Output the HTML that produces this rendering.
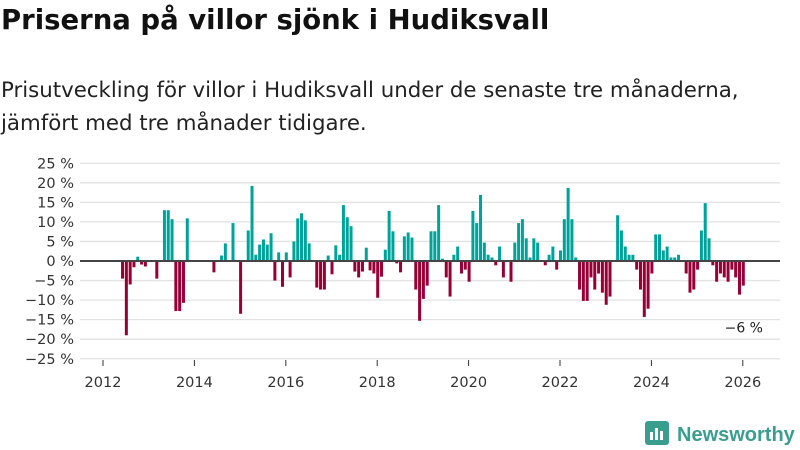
<!DOCTYPE html>
<html><head><meta charset="utf-8"><style>
body{margin:0;width:800px;height:450px;background:#fff;font-family:"DejaVu Sans","Liberation Sans",sans-serif;overflow:hidden;position:relative}
h1{position:absolute;left:1px;top:4px;margin:0;font-size:27.5px;font-weight:bold;color:#111;white-space:nowrap}
.sub{position:absolute;left:1px;top:74px;margin:0;font-size:21.3px;line-height:33px;color:#222;white-space:nowrap}
svg{position:absolute;left:0;top:0}
</style></head><body>
<h1>Priserna på villor sjönk i Hudiksvall</h1>
<p class="sub">Prisutveckling för villor i Hudiksvall under de senaste tre månaderna,<br>jämfört med tre månader tidigare.</p>
<svg id="chart" width="800" height="450" font-family="DejaVu Sans, Liberation Sans, sans-serif"></svg>
<script>
const startYear = 2012, startMonth = 5; // first bar: June 2012
const values = [-4.5,-19,-6,-1.6,1.1,-0.9,-1.4,0,0,-4.5,0,13,13,10.7,-12.8,-12.8,-10.7,10.9,0,0,0,0,0,0,-2.9,0,1.4,4.5,0,9.7,0,-13.5,0,7.8,19.2,1.6,4.2,5.5,4.2,7.1,-5,2.2,-6.6,2.2,-4.2,5,10.9,12.2,10.4,4.5,0,-6.8,-7.3,-7.3,1.4,-3.4,4,1.6,14.3,11.2,8.9,-2.7,-4.2,-2.7,3.4,-2.4,-3.2,-9.4,-4,2.9,12.8,7.6,-0.6,-2.9,6.3,7.3,6,-7.3,-15.3,-9.7,-6.3,7.6,7.6,14.3,0.6,-4.2,-9.1,1.6,3.7,-3.2,-2.2,-5.3,12.8,9.7,16.9,4.7,1.6,0.9,-1.1,3.7,-4.2,0,-5.3,4.7,9.7,10.7,5.8,0.9,5.8,4.7,0,-1.1,1.6,3.7,-2.2,2.7,10.7,18.7,10.7,0.9,-7.3,-10.2,-10.2,-4.2,-7.3,-3.2,-8.1,-11.2,-9.1,0,11.7,7.8,3.7,1.6,1.6,-2.2,-7.3,-14.3,-12.2,-3.2,6.8,6.8,2.7,3.7,0.9,0.9,1.6,0,-3.2,-8.1,-7.3,-2.2,7.8,14.8,5.8,-1.1,-5.3,-3.2,-4.2,-5.3,-2.2,-4.2,-8.6,-6.3];
const yTicks = [25,20,15,10,5,0,-5,-10,-15,-20,-25];
const xTicks = [2012,2014,2016,2018,2020,2022,2024,2026];
const lastLabel = "−6 %";

const NS="http://www.w3.org/2000/svg";
const svg=document.getElementById('chart');
const y0=261, pxPer=3.91;
function yS(v){return y0 - v*pxPer;}
function xS(yearFrac){return 103 + (yearFrac-2012)*45.7;}
function mk(tag,attrs){const e=document.createElementNS(NS,tag);for(const k in attrs)e.setAttribute(k,attrs[k]);svg.appendChild(e);return e;}

yTicks.forEach(t=>{
  const g=mk('line',{x1:80,x2:780,y1:yS(t),y2:yS(t),stroke:'#e2e2e2','stroke-width':1.3});
  
  
  const l=mk('text',{x:74,y:yS(t)+5,'text-anchor':'end','font-size':14.5,fill:'#333'});
  l.textContent=(t<0?'−'+(-t):t)+' %';
  
  
});
xTicks.forEach(t=>{
  const x=xS(t);
  const tk=mk('line',{x1:x,x2:x,y1:360,y2:366,stroke:'#333','stroke-width':1});
  
  
  const l=mk('text',{x:x,y:387,'text-anchor':'middle','font-size':14.5,fill:'#333'});
  l.textContent=t;
  
  
});
values.forEach((v,i)=>{
  const m=startMonth+i;
  const x=xS(startYear+m/12)-1;
  const top=Math.min(yS(v),y0), h=Math.abs(yS(v)-y0);
  const r=mk('rect',{x:x,y:top,width:3,height:h,fill:v>=0?'#00a39a':'#980035'});
  
  
});
const zl=mk('line',{x1:80,x2:780,y1:y0,y2:y0,stroke:'#444','stroke-width':2});


const lastX=xS(startYear+(startMonth+values.length-1)/12);
const lab=mk('text',{x:lastX+1,y:yS(values[values.length-1])+47,'text-anchor':'middle','font-size':14,fill:'#222'});
lab.textContent=lastLabel;


</script>
<svg width="800" height="450" style="pointer-events:none">
<rect x="645" y="421" width="24" height="24" rx="3" fill="#3a9e8f"/>
<rect x="650" y="432" width="3" height="8" fill="#fff"/><rect x="655" y="428" width="3" height="12" fill="#fff"/><rect x="660" y="431" width="3" height="9" fill="#fff"/>
<text x="677" y="441" font-size="20" font-weight="bold" fill="#3a9e8f" font-family="Liberation Sans, sans-serif">Newsworthy</text>
</svg>
</body></html>
